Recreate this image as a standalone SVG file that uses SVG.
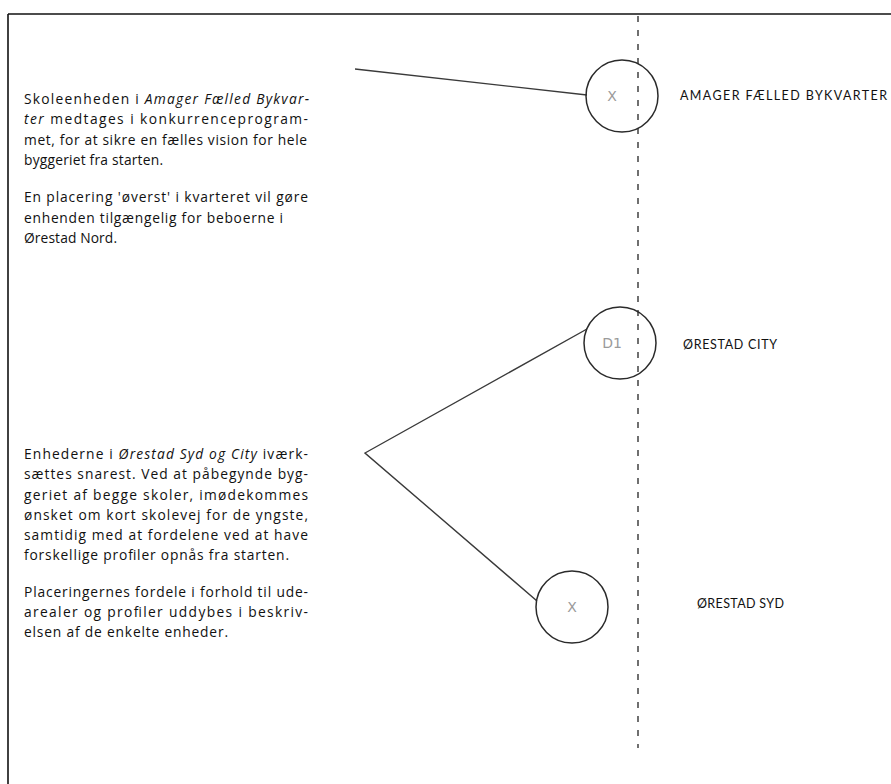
<svg xmlns="http://www.w3.org/2000/svg" width="891" height="784" viewBox="0 0 891 784">
<style>
.body{font-family:"Open Sans",Lato,"Liberation Sans",sans-serif;font-size:13.8px;fill:#111}
.it{font-style:italic}
.lbl{font-family:Lato,"Open Sans","Liberation Sans",sans-serif;font-size:12.5px;fill:#111}
.node{fill:none;stroke:#2a2a2a;stroke-width:1.5}
.mark{font-family:"DejaVu Sans",sans-serif;font-size:14px;fill:#9a9a9a;text-anchor:middle}
.conn{fill:none;stroke:#3a3a3a;stroke-width:1.4}
</style>
<rect width="891" height="784" fill="#fff"/>
<g id="frame" fill="none" stroke="#111" stroke-width="1.6">
<line x1="8" y1="14" x2="891" y2="14"/>
<line x1="8" y1="14" x2="8" y2="784"/>
</g>
<g id="axis">
<line x1="638" y1="16" x2="638" y2="748" stroke="#111" stroke-width="1.2" stroke-dasharray="6 8"/>
</g>
<g id="connectors">
<line class="conn" x1="355" y1="69" x2="587" y2="95"/>
<polyline class="conn" points="587,329 365,453 537,601"/>
</g>
<g id="text-amager">
<text class="body" x="24" y="104" textLength="285" lengthAdjust="spacing">Skoleenheden i <tspan class="it">Amager Fælled Bykvar-</tspan></text>
<text class="body" x="24" y="124" textLength="284" lengthAdjust="spacing"><tspan class="it">ter</tspan> medtages i konkurrenceprogram-</text>
<text class="body" x="24" y="145" textLength="283" lengthAdjust="spacing">met, for at sikre en fælles vision for hele</text>
<text class="body" x="24" y="165" textLength="139" lengthAdjust="spacing">byggeriet fra starten.</text>
<text class="body" x="24" y="202" textLength="284" lengthAdjust="spacing">En placering 'øverst' i kvarteret vil gøre</text>
<text class="body" x="24" y="223" textLength="259" lengthAdjust="spacing">enhenden tilgængelig for beboerne i</text>
<text class="body" x="24" y="243" textLength="93" lengthAdjust="spacing">Ørestad Nord.</text>
</g>
<g id="text-syd-city">
<text class="body" x="24" y="459" textLength="284" lengthAdjust="spacing">Enhederne i <tspan class="it">Ørestad Syd og City</tspan> iværk-</text>
<text class="body" x="24" y="479" textLength="284" lengthAdjust="spacing">sættes snarest. Ved at påbegynde byg-</text>
<text class="body" x="24" y="500" textLength="284" lengthAdjust="spacing">geriet af begge skoler, imødekommes</text>
<text class="body" x="24" y="520" textLength="284" lengthAdjust="spacing">ønsket om kort skolevej for de yngste,</text>
<text class="body" x="24" y="540" textLength="284" lengthAdjust="spacing">samtidig med at fordelene ved at have</text>
<text class="body" x="24" y="560" textLength="265" lengthAdjust="spacing">forskellige profiler opnås fra starten.</text>
<text class="body" x="24" y="597" textLength="284" lengthAdjust="spacing">Placeringernes fordele i forhold til ude-</text>
<text class="body" x="24" y="617" textLength="284" lengthAdjust="spacing">arealer og profiler uddybes i beskriv-</text>
<text class="body" x="24" y="637" textLength="204" lengthAdjust="spacing">elsen af de enkelte enheder.</text>
</g>
<g id="node-amager">
<circle class="node" cx="622" cy="96" r="36"/>
<text class="mark" x="612" y="101">X</text>
<text class="lbl" x="680" y="100" textLength="207" lengthAdjust="spacing">AMAGER FÆLLED BYKVARTER</text>
</g>
<g id="node-city">
<circle class="node" cx="620" cy="343" r="36"/>
<text class="mark" x="612" y="348">D1</text>
<text class="lbl" x="683" y="349" textLength="94" lengthAdjust="spacing">ØRESTAD CITY</text>
</g>
<g id="node-syd">
<circle class="node" cx="572" cy="607" r="36"/>
<text class="mark" x="572" y="612">X</text>
<text class="lbl" x="697" y="608" textLength="87" lengthAdjust="spacing">ØRESTAD SYD</text>
</g>
</svg>
